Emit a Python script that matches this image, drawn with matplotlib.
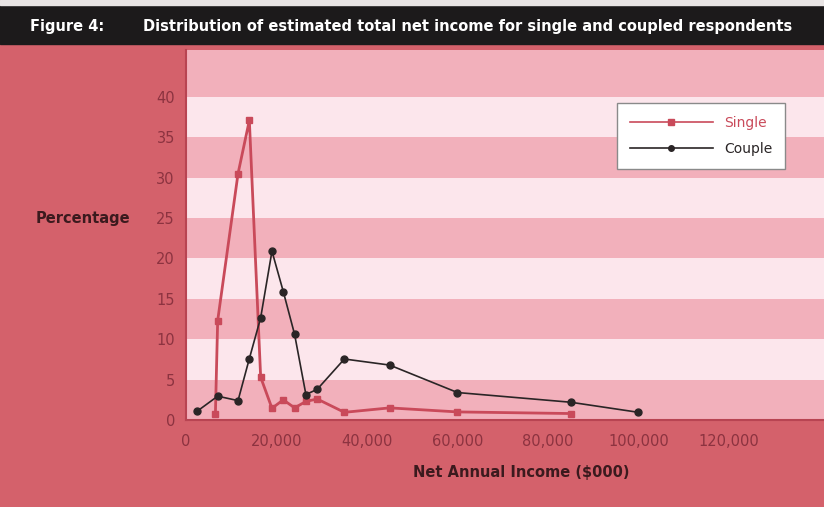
import matplotlib as mpl
mpl.use("Agg")
import matplotlib.pyplot as plt

# Couple respondents: net annual income vs percentage
COUPLE_X = [2500, 7000, 11500, 14000, 16500, 19000, 21500, 24000, 26500,
            29000, 35000, 45000, 60000, 85000, 100000]
COUPLE_Y = [1.1, 2.95, 2.4, 7.6, 12.65, 20.9, 15.9, 10.6, 3.15,
            3.8, 7.55, 6.8, 3.4, 2.2, 0.95]

# Single respondents
SINGLE_X = [6500, 7000, 11500, 14000, 16500, 19000, 21500, 24000, 26500,
            29000, 35000, 45000, 60000, 85000]
SINGLE_Y = [0.8, 12.3, 30.5, 37.1, 5.3, 1.45, 2.5, 1.5, 2.3,
            2.6, 0.95, 1.5, 1.0, 0.8]

X_TICKS = [0, 20000, 40000, 60000, 80000, 100000, 120000]
Y_TICKS = [0, 5, 10, 15, 20, 25, 30, 35, 40]

FRAME = "#d4616b"
BAND_DARK = "#f2b0bb"
BAND_LIGHT = "#fce6ec"
RED = "#c94a5a"
TICK_COL = "#8c3340"
LABEL_COL = "#3b1a1e"

W, H = 824, 507
YTOP = 45.8
fig = plt.figure(figsize=(W / 100, H / 100), dpi=100)
fig.patch.set_facecolor(FRAME)

# header bar
fig.add_artist(plt.Rectangle((0, 1 - 44 / H), 1, 39 / H,
                             transform=fig.transFigure, color="#1c1a1b", zorder=0))
fig.add_artist(plt.Rectangle((0, 1 - 5 / H), 1, 5 / H,
                             transform=fig.transFigure, color="#e8e4e4", zorder=0))
head_font = ["Liberation Sans Narrow", "DejaVu Sans"]
fig.text(30 / W, 1 - 27 / H, "Figure 4:", color="white", fontsize=10.5,
         fontweight="bold", family=head_font, va="center")
fig.text(143 / W, 1 - 27 / H,
         "Distribution of estimated total net income for single and coupled respondents",
         color="white", fontsize=10.5, fontweight="bold", family=head_font, va="center")

ax = fig.add_axes((186 / W, 87 / H, (W - 186) / W, (420 - 50) / H))
ax.set_xlim(0, 141000)
ax.set_ylim(0, YTOP)

# alternating horizontal bands every 5 percent, dark band on top
for i, lo in enumerate(range(0, 45, 5)):
    hi = YTOP if lo == 40 else lo + 5
    ax.axhspan(lo, hi, color=BAND_DARK if i % 2 == 0 else BAND_LIGHT,
               lw=0, zorder=0)

ax.plot(SINGLE_X, SINGLE_Y, color=RED, lw=2.0, marker="s", ms=5,
        label="Single", zorder=3)
ax.plot(COUPLE_X, COUPLE_Y, color="#2a2526", lw=1.2, marker="o", ms=5,
        label="Couple", zorder=4)

ax.set_xticks(X_TICKS)
ax.set_xticklabels([f"{v:,}" for v in X_TICKS])
ax.set_yticks(Y_TICKS)
ax.tick_params(length=0, labelsize=10.5, labelcolor=TICK_COL, pad=8)
ax.tick_params(axis="x", pad=10)
for side in ("top", "right"):
    ax.spines[side].set_visible(False)
for side in ("left", "bottom"):
    ax.spines[side].set_color("#b84452")
    ax.spines[side].set_linewidth(1.5)

leg = ax.legend(loc="upper left",
                bbox_to_anchor=((617 - 186) / (W - 186), 1 - (103 - 50) / 370),
                borderaxespad=0, frameon=True, fancybox=False, fontsize=10,
                handlelength=6, borderpad=0.9, labelspacing=0.9,
                handletextpad=0.8, markerscale=0.8)
leg.get_frame().set_edgecolor("#8a8a8a")
leg.get_frame().set_facecolor("white")
leg.get_frame().set_alpha(1)
leg.get_lines()[0].set_linewidth(1.2)
leg.get_texts()[0].set_color(RED)
leg.get_texts()[1].set_color("#2a2526")

fig.text(83 / W, 1 - 218 / H, "Percentage", ha="center", va="center",
         fontsize=10.5, fontweight="bold", color=LABEL_COL, family=head_font)
fig.text(521 / W, 1 - 472 / H, "Net Annual Income ($000)", ha="center", va="center",
         fontsize=10.5, fontweight="bold", color=LABEL_COL, family=head_font)

fig.savefig("out.png", dpi=100, facecolor=fig.get_facecolor())
